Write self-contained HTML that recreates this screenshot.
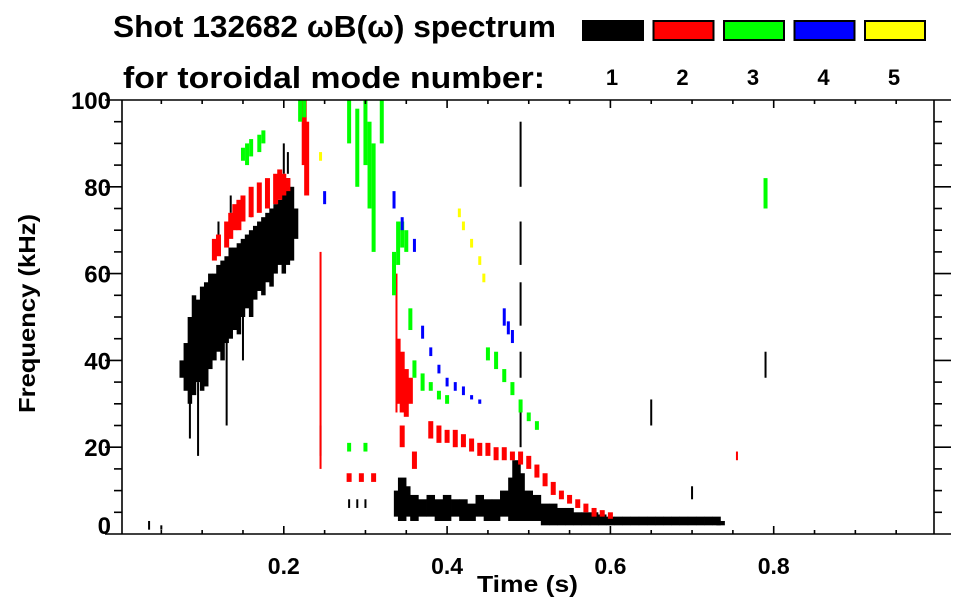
<!DOCTYPE html>
<html><head><meta charset="utf-8"><style>
body{margin:0;background:#fff}
svg{display:block}
text{font-family:"Liberation Sans",Arial,sans-serif;font-weight:bold;fill:#000}
</style></head><body>
<svg id="chart" width="963" height="615">
<text x="113" y="37" font-size="31" textLength="443" lengthAdjust="spacingAndGlyphs">Shot 132682 ωB(ω) spectrum</text>
<text x="123" y="88" font-size="31" textLength="422" lengthAdjust="spacingAndGlyphs">for toroidal mode number:</text>
<g id="legend"></g>
<g id="marks"></g>
<g id="axes"></g>
<text x="477" y="592" font-size="23" textLength="101" lengthAdjust="spacingAndGlyphs">Time (s)</text>
<text transform="translate(35,413) rotate(-90)" font-size="23" textLength="199" lengthAdjust="spacingAndGlyphs">Frequency (kHz)</text>
</svg>
<script>
const modeNumbers=["1","2","3","4","5"];
const modeColors=["#000000","#ff0000","#00ff00","#0000ff","#ffff00"];
const xTicks=[0.2,0.4,0.6,0.8];
const yTicks=[0,20,40,60,80,100];
// series: [time s, low kHz, high kHz]
const n1Band=[[0.075,36,40],[0.08,33,44],[0.085,30,50],[0.09,32,55],[0.095,35,54],[0.1,33,57],[0.105,34,58],[0.11,38,60],[0.115,40,60],[0.12,42,62],[0.125,40,63],[0.13,44,64],[0.135,45,66],[0.14,47,66],[0.145,46,67],[0.15,50,68],[0.155,52,69],[0.16,50,70],[0.165,54,71],[0.17,56,72],[0.175,55,73],[0.18,58,74],[0.185,57,75],[0.19,60,76],[0.195,62,77],[0.2,60,79],[0.205,62,82],[0.21,63,80],[0.215,68,75]];
const n1Low=[[0.34,4,10],[0.345,3,13],[0.35,4,11],[0.36,3,9],[0.37,4,8],[0.38,4,9],[0.39,3,8],[0.4,3,9],[0.41,4,8],[0.42,3,8],[0.43,3,7],[0.44,4,9],[0.45,3,8],[0.46,3,8],[0.47,4,10],[0.48,3,13],[0.485,4,17],[0.49,3,14],[0.5,3,10],[0.51,3,9],[0.52,2,7],[0.53,2,7],[0.54,2,6],[0.55,2,6],[0.56,2,5],[0.57,2,5],[0.58,2,5],[0.59,2,4.5],[0.6,2,4],[0.61,2,4],[0.62,2,4],[0.63,2,4],[0.64,2,4],[0.65,2,4],[0.66,2,4],[0.67,2,4],[0.68,2,4],[0.69,2,4],[0.7,2,4],[0.71,2,4],[0.72,2,4],[0.73,2,4],[0.735,2,3]];
const n1Streaks=[[0.085,22,40],[0.095,18,35],[0.13,25,45],[0.15,40,50],[0.2,83,90],[0.12,68,72],[0.16,73,76],[0.135,74,78],[0.205,83,88],[0.49,20,30],[0.49,36,42],[0.49,48,58],[0.49,62,72],[0.49,80,95],[0.245,18,25],[0.28,6,8],[0.29,6,8],[0.3,6,8],[0.035,1,3],[0.05,1,2],[0.65,25,31],[0.7,8,11],[0.79,36,42]];
const n2Data=[[0.115,63,68],[0.12,64,69],[0.13,66,72],[0.135,68,74],[0.14,70,76],[0.145,70,77],[0.15,72,78],[0.16,73,80],[0.17,74,81],[0.18,75,82],[0.19,76,83],[0.195,77,84],[0.2,78,83],[0.205,79,82],[0.225,85,100],[0.228,78,95],[0.34,30,45],[0.345,28,42],[0.35,27,38],[0.355,30,36],[0.345,20,25],[0.36,15,19],[0.38,22,26],[0.39,21,25],[0.4,21,24],[0.41,20,24],[0.42,20,23],[0.43,19,22],[0.44,18,21],[0.45,18,21],[0.46,17,20],[0.47,17,20],[0.48,17,19],[0.49,16,19],[0.5,15,18],[0.51,13,16],[0.52,11,14],[0.53,9,12],[0.54,8,10],[0.55,7,9],[0.56,6,8],[0.57,5,7],[0.58,4,6],[0.59,4,5.5],[0.6,3.5,5],[0.28,12,14],[0.295,12,14],[0.31,12,14]];
const n2Streaks=[[0.245,15,65],[0.338,28,60],[0.755,17,19]];
const n3Data=[[0.15,86,89],[0.155,85,90],[0.16,87,91],[0.17,88,92],[0.175,90,93],[0.22,95,100],[0.225,96,100],[0.28,90,100],[0.29,80,98],[0.3,85,100],[0.305,75,95],[0.31,65,90],[0.32,90,100],[0.335,55,65],[0.34,62,72],[0.345,66,72],[0.35,65,70],[0.355,47,52],[0.36,36,40],[0.37,33,37],[0.38,33,35],[0.39,31,33],[0.4,30,32],[0.45,40,43],[0.46,38,42],[0.47,35,38],[0.48,32,35],[0.49,28,31],[0.5,26,28],[0.51,24,26],[0.79,75,82],[0.28,19,21],[0.3,19,21]];
const n4Data=[[0.335,75,79],[0.345,70,73],[0.36,65,68],[0.37,45,48],[0.38,41,43],[0.39,37,39],[0.4,34,36],[0.41,33,35],[0.42,32,34],[0.43,31,32],[0.44,30,31],[0.47,48,52],[0.475,46,49],[0.48,44,47],[0.25,76,79]];
const n5Data=[[0.415,73,75],[0.42,70,72],[0.43,66,68],[0.44,62,64],[0.445,58,60],[0.245,86,88]];

const X0=120.5,XS=816.5,Y0=534,YS=4.34,L=122,R=934,T=100,B=534;
const xs=t=>X0+t*XS, ys=f=>Y0-f*YS;
const NS="http://www.w3.org/2000/svg";
function mk(tag,attrs,parent){const e=document.createElementNS(NS,tag);for(const k in attrs)e.setAttribute(k,attrs[k]);parent.appendChild(e);return e;}
const marks=document.getElementById('marks'),axes=document.getElementById('axes'),legend=document.getElementById('legend');

function drawSeries(data,color,w,name){
  data.forEach(d=>{
    const y1=ys(d[2]),y2=ys(d[1]);
    const r=mk('rect',{x:xs(d[0])-w/2,y:y1,width:w,height:Math.max(1,y2-y1),fill:color},marks);
    
    
  });
}
drawSeries(n1Band,modeColors[0],4.5,'mode1-band');
drawSeries(n1Low,modeColors[0],8.5,'mode1-low-band');
drawSeries(n1Streaks,modeColors[0],2,'mode1-streak');
drawSeries(n2Data,modeColors[1],5,'mode2-mark');
drawSeries(n2Streaks,modeColors[1],2,'mode2-streak');
drawSeries(n3Data,modeColors[2],4,'mode3-mark');
drawSeries(n4Data,modeColors[3],3,'mode4-mark');
drawSeries(n5Data,modeColors[4],3,'mode5-mark');

// legend
modeNumbers.forEach((m,i)=>{
  const x=582+i*70.5;
  const r=mk('rect',{x:x+1,y:21,width:60,height:19,fill:modeColors[i],stroke:'#000','stroke-width':2},legend);
  
  
  const t=mk('text',{x:x+30,y:85,'font-size':22,'text-anchor':'middle'},legend);
  t.textContent=m;
  
  
});

// axes frame
const sw={stroke:'#000','stroke-width':1.6};
mk('line',Object.assign({x1:105,y1:T,x2:951,y2:T},sw),axes);
mk('line',Object.assign({x1:105,y1:B,x2:951,y2:B},sw),axes);
mk('line',Object.assign({x1:L,y1:T,x2:L,y2:B},sw),axes);
mk('line',Object.assign({x1:R,y1:T,x2:R,y2:B},sw),axes);
// x ticks
for(let k=1;k<20;k++){
  const t=k*0.05,x=xs(t),maj=(k%4===0),len=maj?8:4;
  mk('line',Object.assign({x1:x,y1:B,x2:x,y2:B-len},sw),axes);
  mk('line',Object.assign({x1:x,y1:T,x2:x,y2:T+len},sw),axes);
}
xTicks.forEach(t=>{
  const e=mk('text',{x:xs(t),y:574,'font-size':23,'text-anchor':'middle'},axes);
  e.textContent=t.toFixed(1);
  
  
});
// y ticks
for(let f=5;f<100;f+=5){
  const y=ys(f),maj=(f%20===0),len=maj?17:8;
  mk('line',Object.assign({x1:L,y1:y,x2:L-len,y2:y},sw),axes);
  mk('line',Object.assign({x1:R,y1:y,x2:R+len,y2:y},sw),axes);
}
yTicks.forEach(f=>{
  const y=Math.min(ys(f),525);
  const e=mk('text',{x:111,y:y+9,'font-size':24,'text-anchor':'end'},axes);
  e.textContent=f;
  
  
});
</script>
</body></html>
